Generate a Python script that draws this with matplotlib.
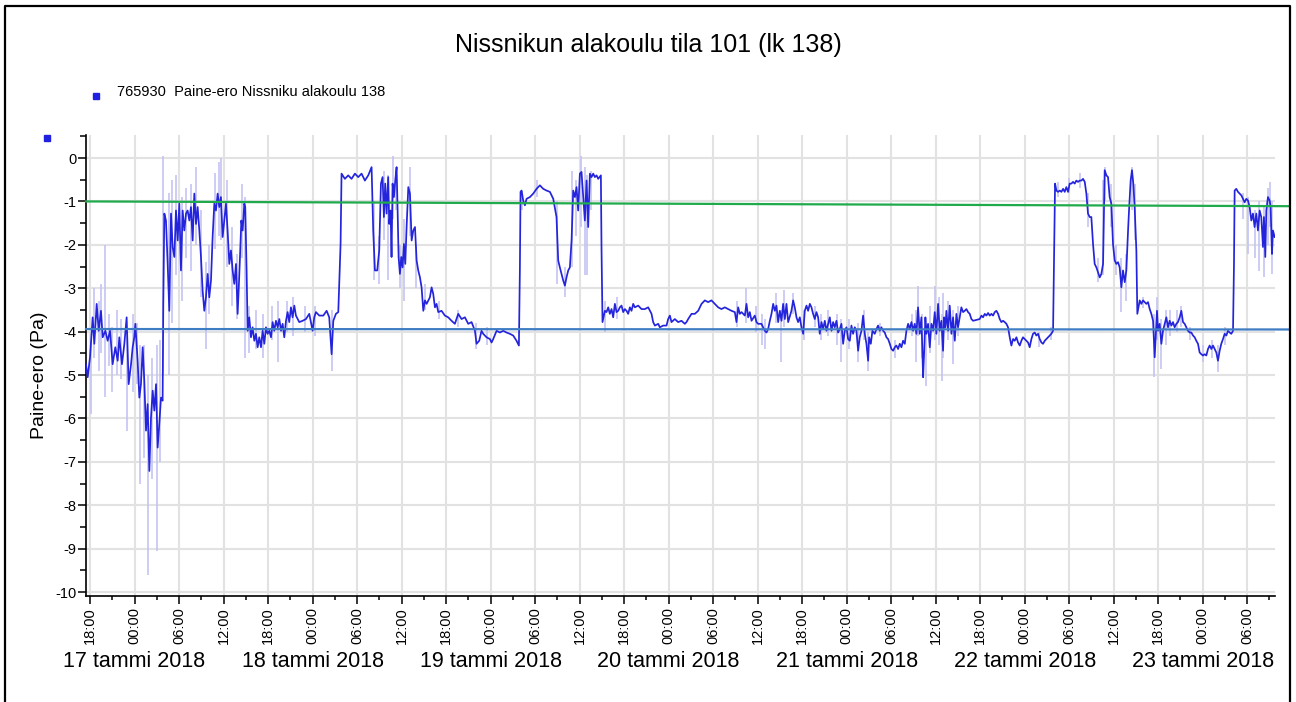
import numpy as np
import matplotlib
matplotlib.use("Agg")
import matplotlib.pyplot as plt
from matplotlib.lines import Line2D
from matplotlib.ticker import MultipleLocator

plt.rcParams['font.family'] = ['Liberation Sans', 'DejaVu Sans']
plt.rcParams['axes.unicode_minus'] = False

# aika tunteina alkaen 17.1.2018 klo 18:00, paine-ero (Pa)
tunnit_1 = [-0.54, -0.31, 0.00, 0.36, 0.58, 0.90, 1.17, 1.48, 1.71, 2.07,
            2.38, 2.70, 3.05, 3.41, 3.73, 3.95, 4.31, 4.63, 4.94, 5.21,
            5.53, 5.75, 5.97, 6.11, 6.42, 6.65, 6.87, 7.10, 7.32, 7.55,
            7.77, 8.00, 8.22, 8.45, 8.67, 8.90, 9.12, 9.34, 9.57, 9.79,
            9.88, 10.02,
            10.24, 10.47, 10.69, 10.92, 11.14, 11.37, 11.59, 11.82, 12.04, 12.26,
            12.49, 12.71, 12.94, 13.16, 13.39, 13.61, 13.84, 14.06, 14.29, 14.51,
            14.74, 14.96, 15.18, 15.41, 15.63, 15.86, 16.08, 16.31, 16.53, 16.76,
            16.98, 17.21, 17.43, 17.65, 17.88, 18.10, 18.33, 18.55, 18.78, 19.00,
            19.23, 19.45, 19.68, 19.90, 20.04, 20.22, 20.40, 20.58, 20.80, 20.93,
            21.11]
paine_1 = [-4.75, -5.05, -4.59, -3.67, -4.28, -3.36, -3.98, -3.52, -4.13, -3.98,
           -4.21, -3.98, -4.75, -4.36, -4.67, -4.13, -4.75, -4.28, -3.67, -5.21,
           -4.75, -4.36, -4.13, -3.82, -4.67, -5.52, -5.21, -4.36, -5.13, -6.28,
           -5.67, -7.21, -5.98, -5.36, -5.82, -5.21, -6.67, -6.13, -5.52, -5.59,
           -3.36, -1.28,
           -1.44, -2.44, -3.52, -1.28, -2.05, -2.28, -1.21, -1.90, -1.05, -2.59,
           -1.21, -1.67, -1.28, -1.21, -1.44, -1.13, -1.90, -0.82, -1.52, -1.13,
           -1.67, -2.28, -3.05, -3.52, -3.21, -2.67, -3.21, -2.82, -1.82, -1.05,
           -1.21, -0.82, -1.13, -0.90, -1.82, -1.44, -1.05, -1.67, -2.44, -2.13,
           -2.59, -2.90, -2.44, -3.59, -3.05, -2.28, -1.44, -1.67, -1.05, -1.13,
           -2.59]

tunnit_2 = [21.25, 21.47, 21.70, 21.92, 22.15, 22.37, 22.60, 22.82, 23.05, 23.27,
            23.50, 23.72, 23.94, 24.17, 24.40, 24.62, 24.84, 25.07, 25.30, 25.52,
            25.75, 25.97, 26.19, 26.42, 26.64, 26.86, 27.09, 27.31, 27.54, 27.76,
            28.21, 28.66, 29.11, 29.56, 29.78, 30.01, 30.23, 30.46, 30.91, 31.45,
            31.90, 32.25, 32.57, 32.80, 33.15, 33.47]
paine_2 = [-3.98, -3.67, -4.13, -3.90, -4.21, -4.05, -4.36, -4.13, -4.36, -3.98,
           -4.28, -3.90, -4.05, -3.98, -4.13, -3.78, -3.98, -3.75, -3.90, -3.71,
           -3.98, -3.82, -4.13, -3.75, -3.55, -3.78, -3.44, -3.67, -3.40, -3.63,
           -3.78, -3.75, -3.71, -3.59, -3.78, -3.98, -3.67, -3.55, -3.63, -3.63,
           -3.52, -3.67, -4.52, -3.75, -3.59, -3.55]

tunnit_3 = [33.78, 33.91, 34.36, 34.81, 35.26, 35.71, 36.16, 36.61, 37.06, 37.51,
            37.96, 38.18, 38.41, 38.72, 38.99, 39.22, 39.44, 39.62, 39.80, 39.98,
            40.20, 40.34, 40.52, 40.65, 40.79, 40.97, 41.15, 41.33, 41.46, 41.60,
            41.78, 41.96, 42.14, 42.32, 42.50, 42.68, 42.91, 43.13, 43.36, 43.58,
            43.81, 44.03, 44.25, 44.48, 44.70, 44.93, 45.15, 45.38, 45.82, 46.05,
            46.27, 46.50, 46.72, 46.95, 47.39, 47.84, 48.29, 48.74, 49.19, 49.64,
            50.09, 50.54, 50.99, 51.44, 51.89, 52.11, 52.47, 52.78, 53.01, 53.46,
            53.91, 54.13, 54.36, 54.81, 55.26, 55.71, 56.15, 56.60, 57.05, 57.50,
            57.82, 57.95, 58.04, 58.18, 58.40, 58.63, 58.85, 59.30, 59.75, 60.20,
            60.65, 61.10, 61.55, 62.00, 62.45]
paine_3 = [-1.98, -0.36, -0.48, -0.40, -0.48, -0.36, -0.44, -0.36, -0.52, -0.40,
           -0.21, -1.67, -2.59, -2.59, -2.13, -0.59, -0.44, -1.36, -0.59, -1.28,
           -0.44, -1.52, -1.21, -2.28, -0.59, -0.90, -0.52, -0.21, -1.13, -2.28,
           -2.67, -2.28, -2.52, -1.98, -2.44, -1.59, -0.67, -0.82, -1.90, -1.67,
           -1.59, -2.36, -2.59, -2.75, -2.98, -3.52, -3.28, -3.36, -3.21, -2.98,
           -3.13, -3.44, -3.36, -3.55, -3.52, -3.63, -3.67, -3.75, -3.82, -3.59,
           -3.71, -3.67, -3.82, -3.78, -3.98, -4.28, -4.21, -3.98, -4.05, -4.13,
           -4.17, -4.25, -4.17, -3.98, -4.02, -3.98, -4.02, -4.05, -4.09, -4.21,
           -4.32, -2.59, -0.78, -0.75, -0.98, -1.09, -0.94, -0.90, -0.82, -0.71,
           -0.63, -0.71, -0.75, -0.78, -0.94]

tunnit_4 = [62.89, 63.12, 63.34, 63.57, 63.79, 64.02, 64.24, 64.47, 64.69, 64.92,
            65.14, 65.37, 65.59, 65.81, 66.04, 66.26, 66.49, 66.71, 66.94, 67.16,
            67.39, 67.61, 67.84, 68.06, 68.29, 68.51, 68.87, 68.96, 69.09, 69.41,
            69.63, 69.86, 70.08, 70.31, 70.53, 70.76, 70.98, 71.20, 71.43, 71.65,
            71.88, 72.10, 72.33, 72.55, 72.78, 73.00, 73.23, 73.45, 73.90, 74.35,
            74.80, 75.25, 75.70, 75.92, 76.15, 76.60, 76.82, 77.27, 77.72, 77.94,
            78.17, 78.39, 78.84, 79.29, 79.74, 80.19, 80.41, 80.64, 81.09, 81.54,
            81.99, 82.44, 82.89, 83.33, 83.78, 84.23, 84.68, 85.13, 85.58, 86.03,
            86.48, 86.93, 87.15, 87.38, 87.60, 87.83, 88.28, 88.50, 88.73, 88.95,
            89.18, 89.62, 89.85, 90.07, 90.52, 90.75, 90.97, 91.20, 91.42, 91.65,
            91.87, 92.10, 92.32, 92.54, 92.77, 92.99, 93.22, 93.44, 93.67, 93.89,
            94.12]
paine_4 = [-1.36, -2.36, -2.52, -2.67, -2.82, -2.94, -2.75, -2.59, -2.52, -1.90,
           -0.75, -0.90, -0.67, -1.21, -0.36, -0.32, -0.90, -1.44, -0.52, -1.59,
           -0.36, -0.44, -0.36, -0.44, -0.40, -0.48, -0.40, -2.13, -3.78, -3.52,
           -3.55, -3.44, -3.59, -3.48, -3.67, -3.36, -3.55, -3.52, -3.44, -3.40,
           -3.55, -3.48, -3.52, -3.59, -3.44, -3.52, -3.36, -3.44, -3.40, -3.48,
           -3.48, -3.44, -3.59, -3.78, -3.86, -3.82, -3.90, -3.86, -3.86, -3.71,
           -3.63, -3.78, -3.71, -3.78, -3.75, -3.82, -3.78, -3.71, -3.59, -3.59,
           -3.52, -3.36, -3.28, -3.32, -3.28, -3.36, -3.44, -3.48, -3.44, -3.48,
           -3.52, -3.55, -3.78, -3.44, -3.59, -3.55, -3.63, -3.36, -3.67, -3.55,
           -3.75, -3.63, -3.78, -3.82, -3.82, -3.90, -3.98, -4.02, -3.94, -3.75,
           -3.59, -3.36, -3.52, -3.40, -3.78, -3.52, -3.75, -3.36, -3.71, -3.36,
           -3.78]

tunnit_5 = [94.56, 94.79, 95.01, 95.24, 95.46, 95.69, 95.91, 96.14, 96.36, 96.59,
            96.81, 97.04, 97.26, 97.48, 97.71, 97.93, 98.16, 98.38, 98.61, 98.83,
            99.06, 99.28, 99.51, 99.73, 99.96, 100.18, 100.40, 100.63, 100.85, 101.08,
            101.30, 101.53, 101.75, 101.98, 102.20, 102.43, 102.65, 102.87, 103.10, 103.32,
            103.55, 103.77, 104.00, 104.22, 104.45, 104.67, 104.90, 105.03, 105.26, 105.48,
            105.79, 106.02, 106.24, 106.47, 106.69, 106.92, 107.14, 107.37, 107.59, 107.82,
            108.04, 108.27, 108.49, 108.71, 108.94, 109.16, 109.39, 109.61, 109.84, 110.06,
            110.29, 110.51, 110.74, 110.96, 111.18, 111.41, 111.63, 111.86, 112.08, 112.31,
            112.44, 112.62, 112.76, 112.98, 113.21, 113.43, 113.66, 113.88, 114.10, 114.33,
            114.55, 114.78, 115.00, 115.14, 115.32, 115.45, 115.68, 115.90, 116.13, 116.35,
            116.58, 116.80, 117.02, 117.25, 117.47, 117.70, 117.92, 118.15, 118.37, 118.60,
            118.82, 119.05, 119.50, 119.94, 120.17, 120.39, 120.62, 120.84, 121.07, 121.29,
            121.52, 121.74, 121.97, 122.19, 122.42, 122.64, 122.86, 123.09, 123.31, 123.54,
            123.76, 123.99, 124.21, 124.44, 124.66, 124.89, 125.11, 125.34, 125.56, 125.78]
paine_5 = [-3.52, -3.28, -3.44, -3.67, -3.78, -3.67, -3.90, -4.05, -3.52, -3.40,
           -3.52, -3.36, -3.44, -3.59, -3.71, -3.55, -3.67, -4.05, -3.78, -3.94,
           -3.75, -3.98, -3.82, -3.67, -3.98, -3.78, -3.90, -3.75, -4.02, -3.94,
           -3.82, -4.28, -3.98, -3.90, -4.17, -4.21, -3.86, -4.05, -3.90, -3.98,
           -4.44, -4.13, -3.98, -3.63, -4.05, -4.28, -4.67, -4.13, -4.28, -3.98,
           -4.05, -3.94, -3.86, -3.98, -3.90, -3.98, -4.02, -4.13, -4.17, -4.28,
           -4.40, -4.44, -4.36, -4.32, -4.40, -4.28, -4.36, -4.21, -4.28, -3.98,
           -3.82, -3.94, -3.78, -3.98, -3.82, -4.05, -3.44, -4.05, -3.67, -5.05,
           -4.52, -3.67, -4.05, -3.82, -4.36, -3.82, -3.98, -3.55, -4.05, -3.36,
           -3.98, -3.75, -4.44, -3.67, -3.90, -3.52, -3.98, -3.40, -4.05, -3.67,
           -4.21, -3.59, -3.90, -3.67, -3.44, -3.55, -3.52, -3.48, -3.55, -3.59,
           -3.71, -3.75, -3.73, -3.71, -3.63, -3.67, -3.59, -3.63, -3.57, -3.63,
           -3.59, -3.63, -3.55, -3.52, -3.59, -3.71, -3.78, -3.75, -3.78, -3.82,
           -3.90, -4.13, -4.32, -4.17, -4.21, -4.13, -4.25, -4.32, -4.21, -4.13]

tunnit_6 = [126.46, 126.68, 126.91, 127.13, 127.36, 127.58, 127.81, 128.03, 128.26, 128.48,
            128.71, 128.93, 129.15, 129.38, 129.60, 129.83, 129.96, 130.10, 130.28, 130.50,
            130.73, 130.95, 131.18, 131.40, 131.62, 131.85, 132.07, 132.30, 132.52, 132.75,
            132.97, 133.20, 133.42, 133.65, 133.87, 134.10, 134.32, 134.54, 134.77, 134.99,
            135.22, 135.44, 135.67, 135.89, 136.12, 136.34, 136.57, 136.79, 137.02, 137.24,
            137.46, 137.69, 137.91, 138.14, 138.36, 138.59, 138.81, 139.04, 139.26, 139.49,
            139.71, 139.94, 140.07, 140.29, 140.47, 140.65, 140.83, 141.06, 141.19, 141.51,
            141.73, 141.96, 142.18, 142.41, 142.63, 142.86, 143.08, 143.31, 143.53, 143.66,
            143.84, 143.98, 144.20, 144.43, 144.65, 144.88, 145.10, 145.33, 145.55, 145.78,
            146.00, 146.22, 146.45, 146.67, 146.90, 147.12, 147.35, 147.57, 147.80, 148.02,
            148.25, 148.47, 148.70, 148.92, 149.14, 149.37, 149.59, 149.82, 150.04, 150.27,
            150.49, 150.72, 150.94, 151.17, 151.39, 151.62, 151.84, 152.06, 152.29, 152.51,
            152.74, 152.96, 153.19, 153.41, 153.64, 153.86, 154.09, 154.22, 154.31, 154.53,
            154.76, 154.98, 155.21, 155.43, 155.66, 155.88, 156.11, 156.33, 156.56, 156.78,
            157.00, 157.23, 157.45, 157.68, 157.90, 158.13, 158.26, 158.44, 158.58, 158.80,
            159.03, 159.16, 159.34, 159.48, 159.70]
paine_6 = [-4.25, -4.36, -4.17, -4.05, -4.02, -4.09, -4.05, -4.17, -4.25, -4.28,
           -4.21, -4.17, -4.13, -4.09, -4.05, -3.98, -2.28, -0.59, -0.75, -0.78,
           -0.75, -0.78, -0.71, -0.78, -0.67, -0.78, -0.59, -0.59, -0.55, -0.59,
           -0.52, -0.55, -0.52, -0.52, -0.48, -0.55, -0.82, -1.28, -1.36, -1.36,
           -1.98, -2.44, -2.52, -2.63, -2.75, -2.67, -2.44, -0.28, -0.40, -0.44,
           -0.90, -1.05, -1.98, -2.36, -2.44, -2.40, -2.52, -2.98, -2.59, -2.86,
           -2.59, -1.67, -1.21, -0.52, -0.28, -0.59, -1.13, -2.13, -3.59, -3.28,
           -3.36, -3.28, -3.32, -3.36, -3.32, -3.48, -3.59, -3.75, -4.59, -4.13,
           -3.52, -3.98, -3.82, -4.28, -3.98, -3.82, -3.67, -3.90, -3.75, -3.86,
           -3.78, -3.90, -3.82, -3.78, -3.67, -3.52, -3.78, -3.82, -3.90, -3.98,
           -4.02, -4.02, -4.09, -4.13, -4.21, -4.28, -4.48, -4.52, -4.55, -4.52,
           -4.55, -4.40, -4.32, -4.40, -4.32, -4.40, -4.48, -4.67, -4.44, -4.28,
           -4.17, -4.05, -4.09, -3.98, -4.02, -4.05, -3.98, -2.44, -0.75, -0.71,
           -0.78, -0.82, -0.86, -0.94, -1.02, -0.94, -0.98, -1.13, -1.44, -1.28,
           -1.59, -1.28, -1.67, -1.21, -1.36, -2.05, -1.36, -2.28, -1.21, -0.90,
           -0.98, -1.13, -2.21, -1.67, -1.82]

# vaaleat min/max-piikit
piikki_h = [0.15, 0.55, 1.2, 1.45, 2.0, 2.5, 3.0, 3.6, 4.2, 5.0,
            5.8, 6.3, 6.75, 7.3, 7.85, 8.3, 8.98, 9.5, 9.9, 10.6,
            11.1, 11.6, 12.4, 13.0, 13.6, 14.3, 15.0, 15.6, 16.1, 16.9,
            17.4, 17.7, 18.5, 19.2, 19.8, 20.5, 20.9, 21.5, 22.4, 23.3,
            24.5, 25.3, 26.6, 27.4, 29.0, 30.3, 32.6, 38.3, 39.0, 39.6,
            40.2, 40.9, 41.3, 41.8, 42.3, 43.2, 44.0, 45.1, 47.0, 49.6,
            52.0, 53.5, 58.3, 60.3, 63.0, 64.0, 65.0, 65.5, 66.2, 66.7,
            67.0, 67.5, 69.4, 71.0, 87.2, 88.5, 89.8, 90.6, 91.0, 92.5,
            93.2, 93.5, 94.8, 96.2, 97.8, 98.5, 99.5, 100.7, 101.3, 102.3,
            103.55, 104.3, 104.9, 106.5, 108.5, 110.8, 111.4, 111.6, 112.2, 112.7,
            113.3, 113.9, 114.4, 114.8, 115.0, 115.7, 116.35, 117.0, 128.0, 129.5,
            130.5, 132.0, 133.5, 134.6, 135.9, 136.6, 136.8, 137.6, 138.3, 139.0,
            139.6, 140.5, 140.9, 142.0, 143.5, 143.8, 144.4, 145.0, 145.6, 146.5,
            147.1, 148.3, 150.0, 151.3, 152.0, 153.0, 155.5, 156.1, 157.0, 157.6,
            158.3, 158.8, 159.1, 159.3]
piikki_ala = [-5.9, -4.6, -4.9, -4.5, -5.5, -4.8, -5.4, -5.0, -5.1, -6.3,
              -5.4, -5.2, -7.5, -6.9, -9.6, -7.4, -9.05, -7.0, -5.0, -5.0,
              -3.8, -2.7, -3.3, -2.3, -2.6, -2.0, -3.2, -4.4, -3.6, -2.1,
              -1.8, -1.9, -2.5, -3.4, -3.7, -2.3, -4.6, -4.5, -4.4, -4.6,
              -4.2, -4.7, -4.0, -4.1, -4.0, -4.1, -4.9, -2.8, -2.9, -1.9,
              -2.8, -1.4, -1.2, -3.0, -3.3, -1.8, -3.0, -3.5, -3.7, -3.9,
              -4.4, -4.3, -1.2, -0.9, -2.9, -3.2, -2.5, -1.8, -1.6, -2.7,
              -2.7, -1.2, -4.0, -3.7, -3.9, -3.8, -4.0, -4.3, -4.4, -3.8,
              -4.7, -3.9, -3.6, -4.2, -3.9, -4.2, -4.1, -4.3, -4.7, -4.4,
              -4.7, -4.2, -4.9, -4.1, -4.6, -4.1, -4.7, -4.1, -4.6, -5.25,
              -4.5, -4.2, -4.3, -5.13, -4.6, -4.2, -4.75, -4.1, -4.35, -4.2,
              -0.9, -0.8, -0.7, -1.6, -2.86, -2.7, -1.0, -1.6, -2.7, -3.55,
              -3.3, -1.2, -1.9, -3.45, -5.05, -4.2, -4.86, -4.3, -4.1, -4.0,
              -3.9, -4.2, -4.7, -4.6, -4.94, -4.3, -1.4, -2.2, -2.3, -2.6,
              -2.75, -2.0, -1.6, -2.67]
piikki_yla = [-4.2, -3.0, -3.3, -2.9, -2.0, -3.6, -3.9, -3.5, -3.7, -4.0,
              -3.6, -3.8, -4.3, -4.3, -5.0, -4.6, -4.3, -4.2, 0.05, -0.8,
              -0.5, -0.4, -0.9, -0.7, -0.6, -0.2, -1.2, -2.4, -2.0, -0.35,
              -0.1, 0.0, -0.5, -1.6, -2.2, -0.6, -0.9, -3.4, -3.5, -3.6,
              -3.4, -3.3, -3.3, -3.2, -3.4, -3.4, -3.5, -1.0, -1.8, -0.3,
              -0.4, 0.05, -0.4, -2.0, -1.4, -0.2, -2.0, -2.9, -3.3, -3.5,
              -3.8, -3.9, -0.75, -0.5, -1.0, -2.5, -0.3, -0.5, 0.05, -0.2,
              -0.4, -0.3, -3.3, -3.2, -3.3, -3.0, -3.4, -3.6, -3.7, -3.1,
              -3.5, -3.05, -3.1, -3.5, -3.4, -3.6, -3.5, -3.6, -3.7, -3.7,
              -3.8, -3.5, -4.0, -3.8, -4.2, -3.6, -3.5, -2.94, -3.6, -3.8,
              -3.4, -2.94, -3.2, -3.6, -3.1, -3.3, -3.5, -3.4, -4.0, -3.9,
              -0.55, -0.45, -0.35, -0.8, -2.3, -0.5, -0.21, -0.6, -2.0, -2.3,
              -2.2, -0.21, -0.6, -3.2, -3.6, -3.2, -3.7, -3.5, -3.5, -3.5,
              -3.4, -3.9, -4.3, -4.2, -4.3, -3.9, -0.8, -0.9, -1.2, -1.0,
              -1.1, -0.7, -0.55, -1.0]

# ala- ja ylärajan suorat (alku, loppu)
ylaraja = [-1.0, -1.11]
alaraja = [-3.94, -3.95]

kellonajat = ['18:00', '00:00', '06:00', '12:00'] * 6 + ['18:00', '00:00', '06:00']
paivat = ['17 tammi 2018', '18 tammi 2018', '19 tammi 2018', '20 tammi 2018',
          '21 tammi 2018', '22 tammi 2018', '23 tammi 2018']

tunnit = tunnit_1 + tunnit_2 + tunnit_3 + tunnit_4 + tunnit_5 + tunnit_6
paine = paine_1 + paine_2 + paine_3 + paine_4 + paine_5 + paine_6
assert len(tunnit) == len(paine)
assert len(piikki_h) == len(piikki_ala) == len(piikki_yla)

W, H = 1296, 702
fig = plt.figure(figsize=(W / 100, H / 100), dpi=100)
fig.patch.set_facecolor('white')
ax = fig.add_axes([86 / W, 1 - 596 / H, (1275 - 86) / W, (596 - 135) / H])

x0, x1 = -0.54, 159.75
ax.set_xlim(x0, x1)
ax.set_ylim(-10.09, 0.53)

ax.set_axisbelow(True)
ax.grid(True, which='major', color='#e2e2e2', lw=1.5)

ax.vlines(piikki_h, piikki_ala, piikki_yla, color='#c3c3f3', lw=1.2, zorder=2)
ax.plot(tunnit, paine, color='#2424dc', lw=1.25, zorder=3)

# rajasuorat jatkuvat kuvan reunaan asti
x_loppu = 161.7
ax.plot([x0, x_loppu], ylaraja, color='#1faa4c', lw=1.6, zorder=4, clip_on=False)
ax.plot([x0, x_loppu], alaraja, color='#3e7cc3', lw=1.6, zorder=4, clip_on=False)

ax.set_xticks(np.arange(len(kellonajat)) * 6)
ax.set_xticklabels(kellonajat)
ax.xaxis.set_minor_locator(MultipleLocator(3))
ax.set_yticks(np.arange(-10, 1))
ax.set_yticklabels([str(v) for v in range(-10, 1)])
ax.yaxis.set_minor_locator(MultipleLocator(0.5))

ax.tick_params(axis='x', which='major', length=6, width=1.1, pad=2,
               labelsize=10.5, labelrotation=90)
ax.tick_params(axis='x', which='minor', length=3, width=1.1)
ax.tick_params(axis='y', which='major', length=6, width=1.1, pad=1, labelsize=10.5)
ax.tick_params(axis='y', which='minor', length=4, width=1.1)
ax.tick_params(axis='x', which='minor', labelbottom=False)

for s in ['top', 'right']:
    ax.spines[s].set_visible(False)
for s in ['left', 'bottom']:
    ax.spines[s].set_linewidth(1.2)

for i, p in enumerate(paivat):
    ax.annotate(p, xy=(6 + 24 * i, 0), xycoords=('data', 'axes fraction'),
                xytext=(0, -47), textcoords='offset points',
                ha='center', va='center', fontsize=15.5)

fig.text(0.5, 1 - 45 / H, 'Nissnikun alakoulu tila 101 (lk 138)',
         ha='center', va='center', fontsize=18)
fig.text(40 / W, 1 - 375 / H, 'Paine-ero (Pa)', rotation=90,
         ha='center', va='center', fontsize=14)
fig.text(117 / W, 1 - 92 / H, '765930  Paine-ero Nissniku alakoulu 138',
         ha='left', va='center', fontsize=10.5)
fig.add_artist(Line2D([96 / W], [1 - 96 / H], marker='s', ms=5, color='#2020e0',
                      transform=fig.transFigure))
fig.add_artist(Line2D([47 / W], [1 - 138 / H], marker='s', ms=5, color='#2020e0',
                      transform=fig.transFigure))

# kehys
fig.add_artist(Line2D([5 / W, 5 / W, 1290 / W, 1290 / W], [0, 1 - 6 / H, 1 - 6 / H, 0],
                      color='black', lw=1.6, transform=fig.transFigure))

fig.savefig('out.png', dpi=100)
